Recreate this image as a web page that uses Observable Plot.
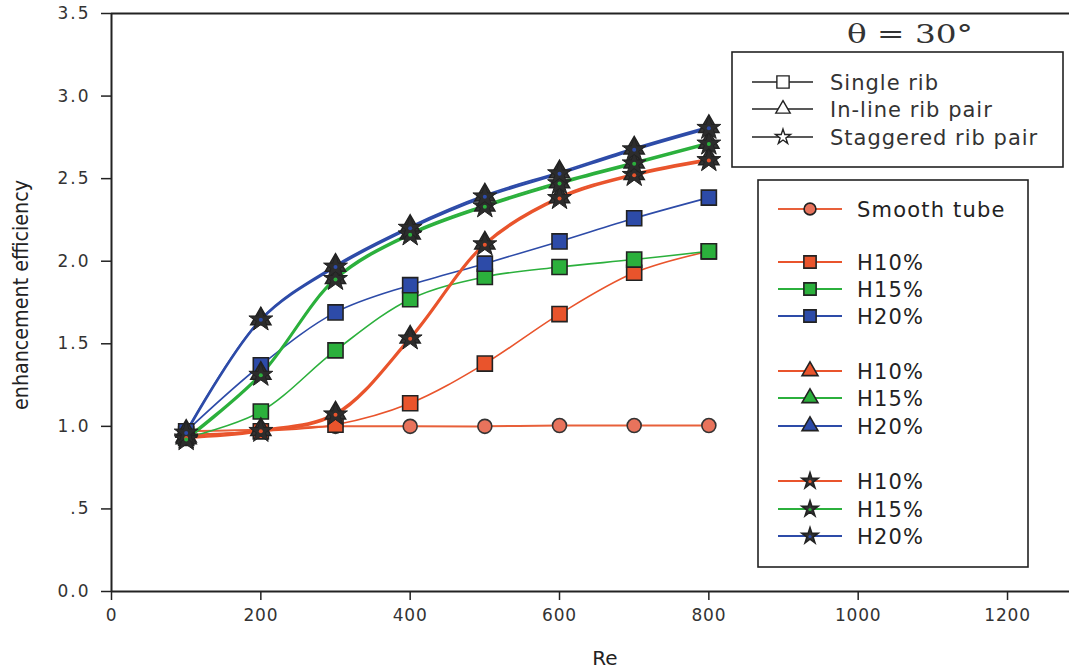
<!DOCTYPE html>
<html>
<head>
<meta charset="utf-8">
<script src="https://cdn.jsdelivr.net/npm/d3@7"></script>
<script src="https://cdn.jsdelivr.net/npm/@observablehq/plot@0.6"></script>
<style>
  html, body { margin: 0; padding: 0; background: #ffffff; }
  #wrap { position: relative; width: 1069px; height: 669px; overflow: hidden; }
  #wrap svg.overlay { position: absolute; left: 0; top: 0; pointer-events: none; }
  .chart g[aria-label="x-axis tick label"] text { letter-spacing: 0.8px; font-size: 17px; }
  .chart g[aria-label="y-axis tick label"] text { letter-spacing: 2px; font-size: 17px; }
</style>
</head>
<body>
<div id="wrap"></div>
<script>
// ---- data ----
const re = [100, 200, 300, 400, 500, 600, 700, 800];

const smoothTube = [0.97, 0.98, 1.00, 1.00, 1.00, 1.005, 1.005, 1.005];

// Single rib (squares)
const singleH10 = [0.95, 0.97, 1.01, 1.14, 1.38, 1.68, 1.93, 2.06];
const singleH15 = [0.93, 1.09, 1.46, 1.77, 1.905, 1.965, 2.01, 2.06];
const singleH20 = [0.97, 1.37, 1.69, 1.855, 1.985, 2.12, 2.26, 2.385];

// In-line rib pair (triangles)
const inlineH10 = [0.94, 0.98, 1.08, 1.54, 2.11, 2.39, 2.53, 2.62];
const inlineH15 = [0.93, 1.32, 1.90, 2.17, 2.34, 2.48, 2.60, 2.72];
const inlineH20 = [0.97, 1.65, 1.975, 2.21, 2.40, 2.54, 2.685, 2.815];

// Staggered rib pair (stars)
const staggH10 = [0.93, 0.97, 1.07, 1.53, 2.10, 2.38, 2.52, 2.61];
const staggH15 = [0.92, 1.31, 1.89, 2.16, 2.33, 2.47, 2.59, 2.71];
const staggH20 = [0.96, 1.645, 1.965, 2.20, 2.39, 2.53, 2.675, 2.805];

const xTicks = [0, 200, 400, 600, 800, 1000, 1200];
const yTicks = [0, 0.5, 1.0, 1.5, 2.0, 2.5, 3.0, 3.5];
const yTickLabels = ["0.0", ".5", "1.0", "1.5", "2.0", "2.5", "3.0", "3.5"];

const heightLabels = ["H10%", "H15%", "H20%"];
const colors = ["#e9542c", "#2bb03c", "#2d4ba8"];
const smoothColor = "#e8603a";
const smoothFill = "#e8735c";

// ---- build tables ----
const rowsOf = (vals, key, color) => vals.map((v, i) => ({re: re[i], v, key, color}));
const smoothRows = rowsOf(smoothTube, "smooth", smoothColor);
const singleRows = [singleH10, singleH15, singleH20].flatMap((s, k) => rowsOf(s, "single" + k, colors[k]));
const inlineRows = [inlineH10, inlineH15, inlineH20].flatMap((s, k) => rowsOf(s, "inline" + k, colors[k]));
const staggRows = [staggH10, staggH15, staggH20].flatMap((s, k) => rowsOf(s, "stagg" + k, colors[k]));

const W = 1069, H = 669;

const chart = Plot.plot({
  width: W,
  height: H,
  marginLeft: 111,
  marginRight: 0,
  marginTop: 13,
  marginBottom: 78,
  className: "chart",
  style: {background: "transparent", fontFamily: "'DejaVu Sans', sans-serif", fontSize: "17px", color: "#333"},
  x: {domain: [0, 1283]},
  y: {domain: [0, 3.5]},
  color: {type: "identity"},
  marks: [
    Plot.axisX({ticks: xTicks, tickSize: 9, tickPadding: 8, label: null, fontSize: 17, stroke: "#222", strokeWidth: 1.5,
      tickFormat: d => String(d)}),
    Plot.axisY({ticks: yTicks, tickSize: 10, tickPadding: 11, label: null, fontSize: 17, stroke: "#222", strokeWidth: 1.5,
      tickFormat: d => yTickLabels[yTicks.indexOf(d)]}),
    Plot.ruleY([0], {stroke: "#222", strokeWidth: 2}),
    Plot.ruleY([3.5], {stroke: "#222", strokeWidth: 2}),
    Plot.ruleX([0], {stroke: "#222", strokeWidth: 2}),
    // lines
    Plot.line(smoothRows, {x: "re", y: "v", z: "key", stroke: "color", strokeWidth: 2, curve: "catmull-rom"}),
    Plot.line(singleRows, {x: "re", y: "v", z: "key", stroke: "color", strokeWidth: 1.6, curve: "catmull-rom"}),
    Plot.line(inlineRows, {x: "re", y: "v", z: "key", stroke: "color", strokeWidth: 1.8, curve: "catmull-rom"}),
    Plot.line(staggRows, {x: "re", y: "v", z: "key", stroke: "color", strokeWidth: 2.4, curve: "catmull-rom"}),
    // markers
    Plot.dot(smoothRows, {x: "re", y: "v", r: 7, fill: smoothFill, stroke: "#333", strokeWidth: 1.6}),
    Plot.dot(singleRows, {x: "re", y: "v", symbol: "square", r: 8.5, fill: "color", stroke: "#222", strokeWidth: 1.6}),
    Plot.dot(inlineRows, {x: "re", y: "v", symbol: "triangle", r: 7.5, fill: "#333", stroke: "#222", strokeWidth: 1.5}),
    Plot.dot(staggRows, {x: "re", y: "v", symbol: "star", r: 7.5, fill: "#2c2c2c", stroke: "#222", strokeWidth: 1}),
    Plot.dot(staggRows, {x: "re", y: "v", r: 2, fill: "color", stroke: null})
  ]
});

const wrap = document.getElementById("wrap");
wrap.appendChild(chart);

// ---- overlay: titles and legends ----
const ov = d3.select(wrap).append("svg")
  .attr("class", "overlay")
  .attr("width", W).attr("height", H)
  .style("font-family", "'DejaVu Sans', sans-serif");

// axis titles
ov.append("text")
  .attr("transform", "translate(28,295) rotate(-90)")
  .attr("text-anchor", "middle")
  .attr("font-size", 22)
  .attr("textLength", 230)
  .attr("lengthAdjust", "spacingAndGlyphs")
  .attr("fill", "#222")
  .text("enhancement efficiency");

ov.append("text")
  .attr("x", 605).attr("y", 665)
  .attr("text-anchor", "middle")
  .attr("font-size", 20)
  .attr("fill", "#222")
  .text("Re");

// theta label
ov.append("text")
  .attr("x", 847).attr("y", 43)
  .attr("font-family", "'DejaVu Serif', 'Liberation Serif', serif")
  .attr("font-size", 26)
  .attr("textLength", 126)
  .attr("lengthAdjust", "spacingAndGlyphs")
  .attr("fill", "#333")
  .text("θ = 30°");

const sym = (type, size) => d3.symbol(type, size)();

// legend 1: configurations
const lg1 = ov.append("g");
lg1.append("rect").attr("x", 732).attr("y", 52).attr("width", 331).attr("height", 115)
  .attr("fill", "white").attr("stroke", "#222").attr("stroke-width", 1.6);
const cfgLabels = ["Single rib", "In-line rib pair", "Staggered rib pair"];
const cfgSymbols = [d3.symbolSquare, d3.symbolTriangle, d3.symbolStar];
const cfgSizes = [150, 90, 70];
const cfgY = [82, 109, 137];
cfgLabels.forEach((lab, i) => {
  const y = cfgY[i];
  lg1.append("line").attr("x1", 752).attr("x2", 813).attr("y1", y).attr("y2", y)
    .attr("stroke", "#222").attr("stroke-width", 1.5);
  lg1.append("path").attr("d", sym(cfgSymbols[i], cfgSizes[i]))
    .attr("transform", `translate(783,${y})`)
    .attr("fill", "white").attr("stroke", "#222").attr("stroke-width", 1.4);
  lg1.append("text").attr("x", 830).attr("y", y).attr("dy", "0.36em")
    .attr("font-size", 21).attr("letter-spacing", 1).attr("fill", "#333").text(lab);
});

// legend 2: series
const lg2 = ov.append("g");
lg2.append("rect").attr("x", 758).attr("y", 180).attr("width", 270).attr("height", 387)
  .attr("fill", "white").attr("stroke", "#222").attr("stroke-width", 1.6);
const entries = [
  {y: 209, color: smoothColor, fill: smoothFill, type: d3.symbolCircle, size: 110, label: "Smooth tube", dot: false}
];
const groupY = [[262, 289, 316], [371, 398, 426], [481, 509, 536]];
const groupSym = [d3.symbolSquare, d3.symbolTriangle, d3.symbolStar];
const groupSize = [150, 110, 80];
groupY.forEach((ys, g) => {
  ys.forEach((y, k) => {
    entries.push({y, color: colors[k], fill: g === 2 ? "#333" : colors[k], type: groupSym[g],
      size: groupSize[g], label: heightLabels[k], dot: g === 2});
  });
});
entries.forEach(e => {
  lg2.append("line").attr("x1", 778).attr("x2", 842).attr("y1", e.y).attr("y2", e.y)
    .attr("stroke", e.color).attr("stroke-width", 2);
  lg2.append("path").attr("d", sym(e.type, e.size))
    .attr("transform", `translate(810,${e.y})`)
    .attr("fill", e.fill).attr("stroke", "#222").attr("stroke-width", 1.6);
  if (e.dot) {
    lg2.append("circle").attr("cx", 810).attr("cy", e.y + 0.5).attr("r", 1.6).attr("fill", e.color);
  }
  lg2.append("text").attr("x", 857).attr("y", e.y).attr("dy", "0.36em")
    .attr("font-size", 21).attr("letter-spacing", 1.2).attr("fill", "#222").text(e.label);
});
</script>
</body>
</html>
